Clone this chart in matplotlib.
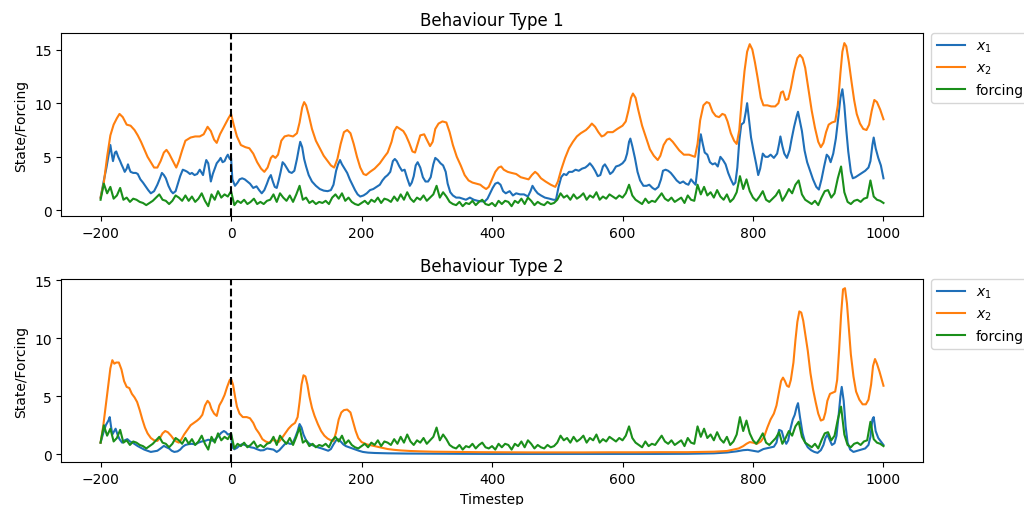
import numpy as np
import matplotlib
matplotlib.use("Agg")
import matplotlib.pyplot as plt

# ---------------- data ----------------
# forcing, sampled every 5 timesteps from -200 to 1000 (same in both panels)
forcing_t = np.arange(-200, 1001, 5)
forcing = [
    1.0, 2.5, 1.6, 2.2, 1.1, 1.4, 2.1, 1.0, 1.2, 0.8,   # -200..-155
    1.1, 1.0, 0.8, 0.7, 0.5, 0.7, 0.9, 1.2, 1.5, 1.0,   # -150..-105
    0.9, 0.6, 0.9, 1.4, 1.2, 0.9, 1.4, 0.9, 1.3, 0.8,   # -100..-55
    1.1, 1.6, 0.9, 0.4, 1.5, 1.0, 1.8, 1.2, 1.5, 1.3,   # -50..-5
    1.8, 0.5, 0.9, 0.7, 1.0, 0.6, 0.8, 1.1, 0.6, 0.8,   # 0..45
    0.6, 0.9, 1.0, 1.5, 0.8, 1.6, 1.2, 0.9, 1.4, 0.8,   # 50..95
    1.5, 2.3, 1.0, 1.2, 0.7, 0.9, 0.6, 0.8, 0.7, 0.9,   # 100..145
    0.6, 1.2, 1.5, 1.1, 1.6, 0.9, 1.2, 0.8, 0.6, 0.5,   # 150..195
    0.7, 0.9, 0.6, 1.0, 0.8, 1.2, 0.7, 1.1, 1.0, 0.8,   # 200..245
    1.3, 0.9, 1.5, 1.0, 1.7, 1.1, 0.8, 1.2, 1.0, 1.4,   # 250..295
    0.9, 1.2, 1.5, 2.3, 1.2, 1.7, 1.3, 0.8, 0.6, 0.5,   # 300..345
    0.8, 0.4, 0.7, 0.6, 0.9, 0.5, 0.8, 1.0, 0.6, 0.5,   # 350..395
    0.7, 0.4, 0.9, 0.6, 0.9, 0.8, 0.4, 0.9, 0.7, 1.1,   # 400..445
    0.6, 1.2, 0.9, 0.5, 0.8, 0.6, 0.5, 0.8, 0.6, 0.7,   # 450..495
    1.0, 1.6, 1.2, 1.4, 1.0, 1.5, 1.1, 1.3, 1.6, 1.0,   # 500..545
    1.4, 1.2, 1.7, 1.0, 1.3, 1.1, 1.5, 1.3, 1.1, 1.4,   # 550..595
    1.2, 1.6, 2.4, 1.4, 1.0, 0.8, 0.6, 1.1, 0.7, 0.9,   # 600..645
    0.8, 1.2, 1.6, 1.1, 0.9, 1.2, 0.8, 1.0, 1.2, 0.7,   # 650..695
    1.4, 1.0, 0.9, 2.4, 1.5, 2.2, 1.4, 1.7, 1.2, 1.9,   # 700..745
    1.3, 1.0, 1.5, 0.8, 1.1, 1.7, 3.2, 2.0, 2.9, 1.8,   # 750..795
    1.2, 0.9, 1.3, 1.8, 1.0, 0.8, 1.1, 1.4, 1.9, 0.9,   # 800..845
    1.4, 2.0, 1.6, 2.4, 2.8, 1.5, 1.0, 0.8, 0.6, 0.9,   # 850..895
    0.5, 1.2, 1.8, 1.9, 1.2, 1.6, 3.0, 4.1, 1.7, 0.8,   # 900..945
    0.6, 0.9, 1.0, 0.8, 1.1, 1.2, 2.8, 1.3, 1.0, 0.9,   # 950..995
    0.7,                                                # 1000
]

# Behaviour Type 1, x1 (timestep, value)
x1_top = [
    (-200,1.2),(-195,2.8),(-191,4.0),(-187,5.4),(-185,6.1),(-183,5.3),(-181,4.6),(-178,5.4),(-176,5.5),
    (-173,5.0),(-170,4.6),(-168,4.3),(-165,3.9),(-163,3.6),(-160,3.9),(-158,4.3),(-156,3.9),(-154,3.6),
    (-150,3.5),(-146,3.5),(-143,3.4),(-139,2.9),(-135,2.6),(-131,2.25),(-127,1.9),(-123,1.6),(-118,1.8),
    (-113,2.4),(-109,3.0),(-106,3.5),(-103,3.3),(-100,3.0),(-96,2.3),(-92,1.8),(-89,1.6),(-85,1.8),
    (-82,2.4),(-78,3.2),(-74,3.8),(-70,3.7),(-67,3.6),(-63,3.4),(-60,3.5),(-56,3.3),(-52,3.4),(-48,3.8),
    (-45,3.5),(-43,3.3),(-40,4.2),(-38,4.7),(-35,4.4),(-33,3.6),(-31,2.7),(-28,3.4),(-25,3.9),(-22,4.4),
    (-18,4.7),(-16,4.9),(-13,4.5),(-10,4.6),(-7,5.0),(-5,5.2),(-2,4.8),(0,4.9),(2,2.9),(6,2.3),(10,2.6),
    (13,2.9),(17,3.0),(21,2.9),(25,2.7),(29,2.5),(34,2.1),(39,2.25),(43,1.9),(47,1.6),(51,1.9),(55,2.5),
    (58,3.0),(61,3.3),(64,2.7),(67,2.2),(70,2.1),(73,2.8),(76,3.6),(79,4.5),(82,4.3),(85,4.0),(89,3.6),
    (93,3.5),(97,3.7),(101,4.8),(104,5.8),(106,6.4),(109,5.9),(112,4.8),(115,4.1),(119,3.3),(124,2.7),
    (130,2.3),(136,2.0),(142,1.85),(148,1.8),(153,1.9),(157,2.4),(161,3.7),(164,4.3),(167,4.7),(170,4.3),
    (174,3.9),(178,3.5),(182,2.9),(186,2.4),(190,1.9),(194,1.5),(198,1.3),(203,1.4),(208,1.6),(213,1.9),
    (218,2.0),(223,2.2),(228,2.4),(232,2.8),(236,3.1),(240,3.3),(244,3.6),(248,4.6),(251,4.8),(254,4.6),
    (258,4.1),(262,3.7),(266,3.8),(270,3.0),(274,2.3),(277,2.6),(280,3.2),(283,4.2),(286,4.5),(290,4.0),
    (294,3.1),(298,2.7),(302,2.7),(306,3.1),(310,4.3),(313,4.9),(317,4.7),(321,4.4),(325,4.2),(329,3.6),
    (332,2.5),(336,1.7),(340,1.4),(345,1.2),(350,1.2),(355,1.1),(360,1.0),(366,1.2),(372,1.0),(378,0.9),
    (384,0.85),(389,0.85),(393,1.1),(397,1.6),(401,2.1),(405,2.5),(409,2.6),(413,2.4),(417,1.8),(421,1.6),
    (427,1.8),(432,1.4),(437,1.6),(443,1.5),(449,1.5),(455,1.3),(459,1.8),(462,2.3),(466,1.9),(470,1.6),
    (475,1.4),(481,1.2),(488,1.1),(494,1.0),(498,1.0),(502,2.2),(506,3.1),(510,3.4),(514,3.3),(518,3.6),
    (523,3.6),(528,3.8),(533,3.7),(538,3.9),(543,4.0),(547,4.2),(550,4.4),(554,4.1),(558,3.7),(562,3.2),
    (566,3.3),(570,4.1),(573,4.3),(577,3.9),(581,3.4),(585,3.6),(590,4.1),(595,4.2),(600,4.4),(604,4.7),
    (607,5.3),(610,6.4),(612,6.7),(615,6.0),(619,4.9),(623,3.6),(627,2.8),(632,2.3),(637,2.3),(641,2.4),
    (646,2.1),(650,1.95),(655,2.2),(659,2.9),(662,3.7),(666,3.8),(670,3.7),(674,3.5),(678,3.2),(683,2.8),
    (688,2.55),(693,2.7),(697,2.5),(701,2.4),(705,2.9),(709,2.6),(712,2.4),(715,4.0),(718,6.2),(720,7.1),
    (723,6.2),(726,5.4),(730,5.2),(734,4.5),(738,4.3),(742,4.4),(746,4.1),(750,5.0),(754,4.7),(758,4.3),
    (762,3.5),(766,2.9),(770,2.4),(773,2.6),(776,4.0),(779,6.5),(782,8.0),(786,8.2),(789,9.2),(791,10.0),
    (794,8.4),(797,6.8),(801,5.5),(805,4.3),(808,3.3),(811,3.9),(815,5.3),(819,5.0),(823,5.0),(827,5.2),
    (832,4.9),(837,5.3),(840,6.2),(842,6.9),(845,6.0),(848,5.3),(852,4.9),(856,5.6),(859,6.6),(863,7.8),
    (867,8.8),(869,9.2),(872,8.3),(875,7.4),(879,5.6),(883,4.5),(887,3.8),(892,2.9),(897,2.2),(901,1.95),
    (905,2.9),(909,4.1),(913,5.2),(916,5.0),(919,4.5),(923,5.3),(927,6.7),(931,8.8),(934,10.5),(937,11.3),
    (940,9.8),(943,7.5),(946,5.5),(950,3.6),(953,3.0),(957,3.1),(962,3.3),(967,3.5),(972,3.7),(977,4.0),
    (980,4.6),(983,6.1),(985,6.8),(988,5.8),(992,4.9),(996,4.2),(1000,3.0),
]

# Behaviour Type 1, x2
x2_top = [
    (-200,1.2),(-195,2.6),(-190,5.0),(-185,7.0),(-180,8.0),(-175,8.6),(-171,9.0),(-166,8.7),(-160,8.0),
    (-154,7.9),(-148,7.5),(-143,7.0),(-138,6.4),(-133,5.7),(-128,5.0),(-123,4.5),(-118,4.0),(-113,4.0),
    (-108,4.6),(-103,5.4),(-99,5.65),(-95,5.3),(-90,4.7),(-84,4.0),(-80,4.6),(-75,5.6),(-70,6.5),(-62,6.8),
    (-55,6.9),(-48,6.9),(-42,7.1),(-36,7.8),(-31,7.4),(-26,6.6),(-22,6.3),(-17,7.1),(-10,7.9),(-4,8.6),
    (0,9.0),(4,8.0),(9,6.9),(15,6.1),(22,5.9),(28,5.8),(34,5.3),(40,4.5),(46,3.9),(51,3.6),(56,4.0),
    (61,4.9),(64,5.1),(68,4.9),(72,5.2),(77,6.5),(82,6.9),(88,7.0),(95,6.9),(101,7.2),(105,8.2),(109,9.6),
    (112,10.1),(115,9.8),(119,8.9),(124,7.6),(130,6.5),(136,5.8),(142,5.1),(148,4.6),(153,4.2),(158,4.0),
    (163,4.8),(168,6.2),(173,7.3),(178,7.5),(183,7.2),(188,6.2),(193,5.0),(198,4.0),(203,3.4),(207,3.3),
    (213,3.6),(220,3.9),(228,4.4),(235,5.0),(240,5.4),(246,6.4),(250,7.4),(254,7.8),(259,7.6),(264,7.4),
    (268,7.0),(273,6.3),(278,5.5),(282,5.4),(286,6.2),(290,7.0),(296,7.1),(300,6.6),(305,6.0),(309,6.4),
    (313,7.6),(318,8.1),(324,8.3),(330,8.2),(335,7.3),(340,6.1),(346,5.0),(352,4.2),(358,3.3),(364,2.8),
    (370,2.6),(376,2.5),(382,2.4),(386,2.2),(391,2.0),(395,2.2),(400,2.9),(405,3.6),(410,4.0),(414,4.1),
    (418,3.8),(424,3.6),(430,3.5),(437,3.4),(444,3.1),(450,3.0),(456,2.9),(461,3.3),(466,3.6),(470,3.4),
    (475,3.0),(482,2.7),(490,2.4),(497,2.2),(501,2.7),(506,3.8),(512,4.9),(518,5.8),(524,6.4),(530,6.9),
    (536,7.2),(544,7.5),(549,7.8),(553,8.1),(558,7.8),(563,7.3),(568,6.9),(572,7.0),(577,7.3),(585,7.3),
    (592,7.6),(600,7.9),(605,8.3),(609,9.3),(613,10.5),(616,10.9),(620,10.5),(624,9.4),(630,7.9),(636,6.8),
    (642,5.7),(648,5.1),(654,4.7),(658,5.1),(663,6.1),(668,6.6),(672,6.7),(677,6.4),(682,6.0),(687,5.6),
    (694,5.2),(702,5.2),(711,5.0),(715,6.2),(719,8.4),(724,9.8),(729,10.1),(733,10.0),(738,9.2),(743,8.8),
    (748,8.7),(753,9.0),(757,8.9),(761,8.3),(766,7.2),(771,6.5),(775,6.2),(779,7.5),(783,10.5),(787,13.0),
    (791,14.8),(795,15.5),(799,15.0),(803,13.8),(807,12.4),(812,10.5),(816,9.8),(822,9.8),(828,9.7),
    (834,9.7),(839,10.0),(843,11.0),(846,11.1),(850,10.3),(854,10.4),(858,11.4),(863,13.0),(868,14.2),
    (872,14.5),(876,14.2),(880,13.3),(885,11.3),(890,9.3),(895,7.7),(900,6.4),(904,5.9),(908,6.3),(912,7.3),
    (916,8.0),(921,8.2),(926,8.3),(930,9.8),(934,12.8),(937,14.8),(940,15.6),(943,15.3),(947,13.8),
    (951,12.0),(955,10.3),(959,9.0),(964,8.1),(969,7.6),(974,7.5),(978,8.0),(982,9.3),(986,10.3),(990,10.1),
    (995,9.4),(1000,8.5),
]

# Behaviour Type 2, x1
x1_bot = [
    (-200,1.0),(-196,1.8),(-192,2.5),(-188,2.9),(-186,3.2),(-184,2.4),(-182,1.7),(-179,2.0),(-177,2.2),
    (-174,1.7),(-171,1.3),(-167,1.0),(-163,1.2),(-159,1.3),(-155,1.1),(-151,1.0),(-147,0.85),(-143,0.7),
    (-138,0.55),(-133,0.4),(-128,0.3),(-123,0.2),(-118,0.25),(-113,0.3),(-108,0.5),(-103,0.72),(-99,0.6),
    (-95,0.5),(-91,0.3),(-87,0.2),(-82,0.25),(-78,0.4),(-74,0.65),(-70,0.8),(-65,0.87),(-60,0.9),(-55,0.85),
    (-50,1.0),(-45,1.1),(-40,1.15),(-35,1.25),(-31,1.2),(-27,1.15),(-23,1.35),(-19,1.6),(-15,1.85),(-11,2.0),
    (-8,1.9),(-5,1.7),(-2,1.75),(0,1.7),(2,0.6),(5,0.43),(9,0.55),(13,0.75),(17,0.87),(21,0.8),(25,0.72),
    (30,0.6),(35,0.55),(40,0.43),(45,0.33),(50,0.35),(55,0.5),(60,0.45),(65,0.4),(70,0.2),(74,0.35),(78,0.6),
    (82,0.85),(86,1.0),(90,0.9),(94,0.9),(98,1.4),(102,2.0),(105,2.6),(108,2.3),(111,1.7),(115,1.2),(119,0.95),
    (124,0.8),(129,0.68),(134,0.58),(139,0.5),(144,0.4),(149,0.3),(153,0.45),(157,0.85),(161,1.2),(164,1.3),
    (168,1.1),(172,0.85),(176,0.7),(181,0.6),(186,0.5),(191,0.4),(196,0.3),(202,0.2),(210,0.14),(220,0.11),
    (240,0.08),(270,0.06),(300,0.05),(350,0.04),(400,0.03),(450,0.03),(500,0.03),(550,0.03),(600,0.03),
    (650,0.03),(700,0.04),(740,0.08),(760,0.15),(775,0.25),(785,0.35),(792,0.38),(800,0.3),(808,0.22),
    (816,0.45),(824,0.55),(832,0.65),(836,1.0),(840,2.1),(844,2.0),(847,1.4),(851,0.9),(854,1.2),(857,2.1),
    (861,3.0),(864,3.4),(867,4.1),(869,4.4),(872,3.2),(876,1.8),(880,1.0),(884,0.6),(889,0.35),(894,0.2),
    (899,0.12),(904,0.35),(908,0.8),(911,1.4),(914,1.7),(917,1.3),(921,0.8),(925,0.95),(928,1.6),(931,3.2),
    (934,5.0),(936,5.8),(939,4.6),(942,2.4),(945,1.0),(949,0.4),(954,0.2),(960,0.3),(966,0.4),(972,0.5),
    (977,0.8),(980,1.5),(983,3.0),(985,3.2),(988,2.0),(992,1.4),(996,1.1),(1000,0.8),
]

# Behaviour Type 2, x2
x2_bot = [
    (-200,1.0),(-196,2.4),(-192,4.2),(-188,6.0),(-185,7.4),(-182,8.1),(-179,7.8),(-176,7.9),(-172,7.9),
    (-168,7.3),(-164,6.3),(-160,5.8),(-156,5.7),(-152,5.2),(-148,4.9),(-144,4.5),(-140,3.8),(-136,3.0),
    (-132,2.3),(-128,1.8),(-123,1.4),(-118,1.2),(-113,1.15),(-109,1.4),(-105,1.8),(-101,2.0),(-97,1.9),
    (-92,1.6),(-88,1.3),(-84,1.1),(-80,1.0),(-76,1.3),(-72,1.7),(-67,2.1),(-62,2.5),(-57,2.7),(-52,2.9),
    (-48,3.1),(-44,3.4),(-40,4.2),(-36,4.6),(-33,4.4),(-30,3.9),(-26,3.5),(-22,3.3),(-18,4.2),(-14,4.6),
    (-10,5.1),(-6,5.8),(-2,6.4),(0,6.5),(3,6.0),(6,5.0),(9,4.1),(13,3.5),(18,3.2),(24,3.2),(29,3.1),(34,2.7),
    (38,2.2),(43,1.8),(48,1.3),(53,1.1),(58,1.0),(63,1.2),(68,1.2),(73,1.05),(78,1.4),(83,1.8),(88,2.2),
    (93,2.5),(98,2.7),(102,3.2),(105,4.5),(108,6.0),(111,6.8),(114,6.7),(117,6.0),(120,5.0),(124,4.0),
    (128,3.3),(133,2.6),(138,2.0),(143,1.6),(148,1.35),(153,1.2),(157,1.15),(161,1.9),(165,3.0),(169,3.6),
    (173,3.8),(178,3.85),(183,3.6),(187,2.8),(191,2.0),(195,1.4),(200,1.05),(208,0.85),(216,0.75),(224,0.65),
    (232,0.55),(240,0.45),(250,0.38),(260,0.33),(275,0.28),(290,0.25),(310,0.22),(340,0.2),(380,0.18),
    (420,0.17),(460,0.16),(500,0.16),(540,0.16),(580,0.17),(620,0.17),(660,0.18),(700,0.18),(740,0.22),
    (760,0.28),(770,0.4),(778,0.5),(785,0.7),(790,0.9),(795,1.05),(800,1.0),(806,0.9),(812,1.1),(817,1.5),
    (822,2.3),(827,3.0),(832,3.5),(836,4.2),(840,5.4),(843,6.3),(846,6.6),(849,6.3),(852,5.9),(855,5.8),
    (858,6.4),(862,7.9),(865,9.8),(868,11.4),(871,12.3),(874,12.2),(877,11.5),(880,10.4),(884,8.9),(888,7.0),
    (892,5.6),(896,4.5),(900,3.5),(904,2.9),(908,3.0),(911,3.6),(914,4.6),(918,5.2),(922,5.3),(926,5.4),
    (929,6.4),(932,9.0),(935,12.0),(938,14.2),(941,14.3),(944,13.0),(947,10.8),(950,8.6),(954,6.7),(958,5.4),
    (963,4.7),(968,4.3),(973,4.3),(977,4.7),(981,6.0),(984,7.6),(987,8.2),(990,7.8),(994,7.1),(997,6.5),
    (1000,5.9),
]

titles = ["Behaviour Type 1", "Behaviour Type 2"]
labels = ["$x_1$", "$x_2$", "forcing"]
c_x1, c_x2, c_f = "#1f6fb8", "#ff7f0e", "#1a8f1a"

# ---------------- figure ----------------
fig, axes = plt.subplots(2, 1, figsize=(10.24, 5.06), dpi=100)
fig.subplots_adjust(left=0.060, right=0.901, top=0.933, bottom=0.084, hspace=0.34)

panels = [(x1_top, x2_top), (x1_bot, x2_bot)]
ylims = [(-0.56, 16.55), (-0.71, 15.1)]
for ax, (s1, s2), title, yl in zip(axes, panels, titles, ylims):
    t1, v1 = zip(*s1)
    t2, v2 = zip(*s2)
    ax.plot(t1, v1, color=c_x1, lw=1.5, label=labels[0])
    ax.plot(t2, v2, color=c_x2, lw=1.5, label=labels[1])
    ax.plot(forcing_t, forcing, color=c_f, lw=1.5, label=labels[2])
    ax.axvline(0, color="black", ls="--", lw=1.5)
    ax.set_title(title)
    ax.set_ylabel("State/Forcing")
    ax.set_ylim(*yl)
    ax.set_xlim(-260, 1060)
    ax.legend(loc="upper left", bbox_to_anchor=(1.01, 1.0), borderaxespad=0.0)

axes[1].set_xlabel("Timestep")

fig.savefig("out.png", dpi=100)
